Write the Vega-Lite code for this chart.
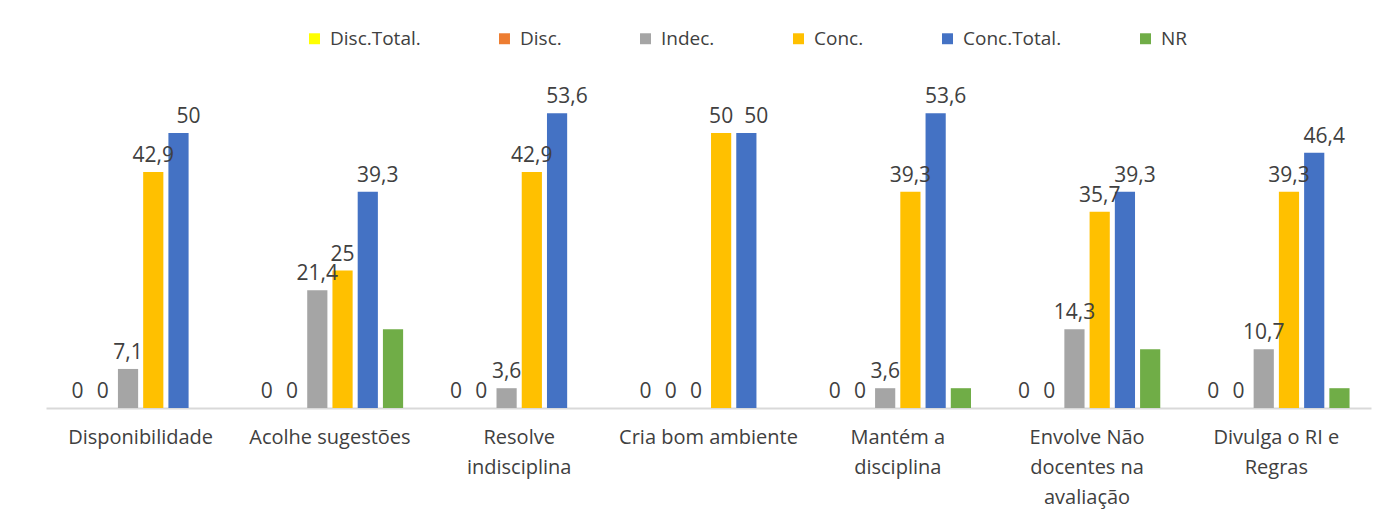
{
  "$schema": "https://vega.github.io/schema/vega-lite/v6.json",
  "width": 1325,
  "height": 330,
  "autosize": {"type": "none"},
  "padding": {"left": 46, "top": 78, "right": 19, "bottom": 108},
  "background": "white",
  "config": {
    "view": {"stroke": null},
    "font": "Open Sans",
    "locale": {"number": {"decimal": ",", "thousands": ".", "grouping": [3], "currency": ["", " €"]}}
  },
  "data": {
    "values": [
      {"cat": "Disponibilidade", "serie": "Disc.Total.", "value": 0},
      {"cat": "Disponibilidade", "serie": "Disc.", "value": 0},
      {"cat": "Disponibilidade", "serie": "Indec.", "value": 7.1},
      {"cat": "Disponibilidade", "serie": "Conc.", "value": 42.9},
      {"cat": "Disponibilidade", "serie": "Conc.Total.", "value": 50},
      {"cat": "Disponibilidade", "serie": "NR", "value": 0},
      {"cat": "Acolhe sugestões", "serie": "Disc.Total.", "value": 0},
      {"cat": "Acolhe sugestões", "serie": "Disc.", "value": 0},
      {"cat": "Acolhe sugestões", "serie": "Indec.", "value": 21.4},
      {"cat": "Acolhe sugestões", "serie": "Conc.", "value": 25},
      {"cat": "Acolhe sugestões", "serie": "Conc.Total.", "value": 39.3},
      {"cat": "Acolhe sugestões", "serie": "NR", "value": 14.3},
      {"cat": "Resolve indisciplina", "serie": "Disc.Total.", "value": 0},
      {"cat": "Resolve indisciplina", "serie": "Disc.", "value": 0},
      {"cat": "Resolve indisciplina", "serie": "Indec.", "value": 3.6},
      {"cat": "Resolve indisciplina", "serie": "Conc.", "value": 42.9},
      {"cat": "Resolve indisciplina", "serie": "Conc.Total.", "value": 53.6},
      {"cat": "Resolve indisciplina", "serie": "NR", "value": 0},
      {"cat": "Cria bom ambiente", "serie": "Disc.Total.", "value": 0},
      {"cat": "Cria bom ambiente", "serie": "Disc.", "value": 0},
      {"cat": "Cria bom ambiente", "serie": "Indec.", "value": 0},
      {"cat": "Cria bom ambiente", "serie": "Conc.", "value": 50},
      {"cat": "Cria bom ambiente", "serie": "Conc.Total.", "value": 50},
      {"cat": "Cria bom ambiente", "serie": "NR", "value": 0},
      {"cat": "Mantém a disciplina", "serie": "Disc.Total.", "value": 0},
      {"cat": "Mantém a disciplina", "serie": "Disc.", "value": 0},
      {"cat": "Mantém a disciplina", "serie": "Indec.", "value": 3.6},
      {"cat": "Mantém a disciplina", "serie": "Conc.", "value": 39.3},
      {"cat": "Mantém a disciplina", "serie": "Conc.Total.", "value": 53.6},
      {"cat": "Mantém a disciplina", "serie": "NR", "value": 3.6},
      {"cat": "Envolve Não docentes na avaliação", "serie": "Disc.Total.", "value": 0},
      {"cat": "Envolve Não docentes na avaliação", "serie": "Disc.", "value": 0},
      {"cat": "Envolve Não docentes na avaliação", "serie": "Indec.", "value": 14.3},
      {"cat": "Envolve Não docentes na avaliação", "serie": "Conc.", "value": 35.7},
      {"cat": "Envolve Não docentes na avaliação", "serie": "Conc.Total.", "value": 39.3},
      {"cat": "Envolve Não docentes na avaliação", "serie": "NR", "value": 10.7},
      {"cat": "Divulga o RI e Regras", "serie": "Disc.Total.", "value": 0},
      {"cat": "Divulga o RI e Regras", "serie": "Disc.", "value": 0},
      {"cat": "Divulga o RI e Regras", "serie": "Indec.", "value": 10.7},
      {"cat": "Divulga o RI e Regras", "serie": "Conc.", "value": 39.3},
      {"cat": "Divulga o RI e Regras", "serie": "Conc.Total.", "value": 46.4},
      {"cat": "Divulga o RI e Regras", "serie": "NR", "value": 3.6}
    ]
  },
  "encoding": {
    "x": {
      "field": "cat",
      "type": "nominal",
      "sort": null,
      "scale": {"paddingInner": 0.2, "paddingOuter": 0.1},
      "axis": {
        "title": null,
        "labelAngle": 0,
        "ticks": false,
        "domainColor": "#d9d9d9",
        "domainWidth": 2,
        "labelFont": "Open Sans",
        "labelFontSize": 20,
        "labelColor": "#404040",
        "labelPadding": 19,
        "labelLineHeight": 30,
        "labelBaseline": "top",
        "labelExpr": "datum.label == 'Resolve indisciplina' ? ['Resolve', 'indisciplina'] : datum.label == 'Mantém a disciplina' ? ['Mantém a', 'disciplina'] : datum.label == 'Envolve Não docentes na avaliação' ? ['Envolve Não', 'docentes na', 'avaliação'] : datum.label == 'Divulga o RI e Regras' ? ['Divulga o RI e', 'Regras'] : datum.label"
      }
    },
    "xOffset": {
      "field": "serie",
      "type": "nominal",
      "sort": ["Disc.Total.", "Disc.", "Indec.", "Conc.", "Conc.Total.", "NR"],
      "scale": {"paddingInner": 0.2, "paddingOuter": 0.1}
    },
    "y": {
      "field": "value",
      "type": "quantitative",
      "scale": {"domain": [0, 60]},
      "axis": null
    }
  },
  "layer": [
    {
      "mark": {"type": "bar"},
      "encoding": {
        "color": {
          "field": "serie",
          "type": "nominal",
          "sort": ["Disc.Total.", "Disc.", "Indec.", "Conc.", "Conc.Total.", "NR"],
          "scale": {
            "domain": ["Disc.Total.", "Disc.", "Indec.", "Conc.", "Conc.Total.", "NR"],
            "range": ["#FFFF00", "#ED7D31", "#A5A5A5", "#FFC000", "#4472C4", "#70AD47"]
          },
          "legend": {
            "title": null,
            "orient": "none",
            "direction": "horizontal",
            "legendX": 259,
            "legendY": -49,
            "symbolType": "square",
            "symbolSize": 120,
            "symbolStrokeWidth": 0,
            "labelFont": "Open Sans",
            "labelFontSize": 19,
            "labelColor": "#404040",
            "columnPadding": 74,
            "labelOffset": 6
          }
        }
      }
    },
    {
      "transform": [{"filter": "datum.serie != 'NR' && datum.serie != 'Conc.Total.'"}],
      "mark": {"type": "text", "baseline": "bottom", "dy": -6, "fontSize": 21, "color": "#404040", "font": "Open Sans"},
      "encoding": {
        "text": {"field": "value", "type": "quantitative", "format": "~r"}
      }
    },
    {
      "transform": [{"filter": "datum.serie == 'Conc.Total.'"}],
      "mark": {"type": "text", "baseline": "bottom", "dy": -6, "dx": 10, "fontSize": 21, "color": "#404040", "font": "Open Sans"},
      "encoding": {
        "text": {"field": "value", "type": "quantitative", "format": "~r"}
      }
    }
  ]
}
